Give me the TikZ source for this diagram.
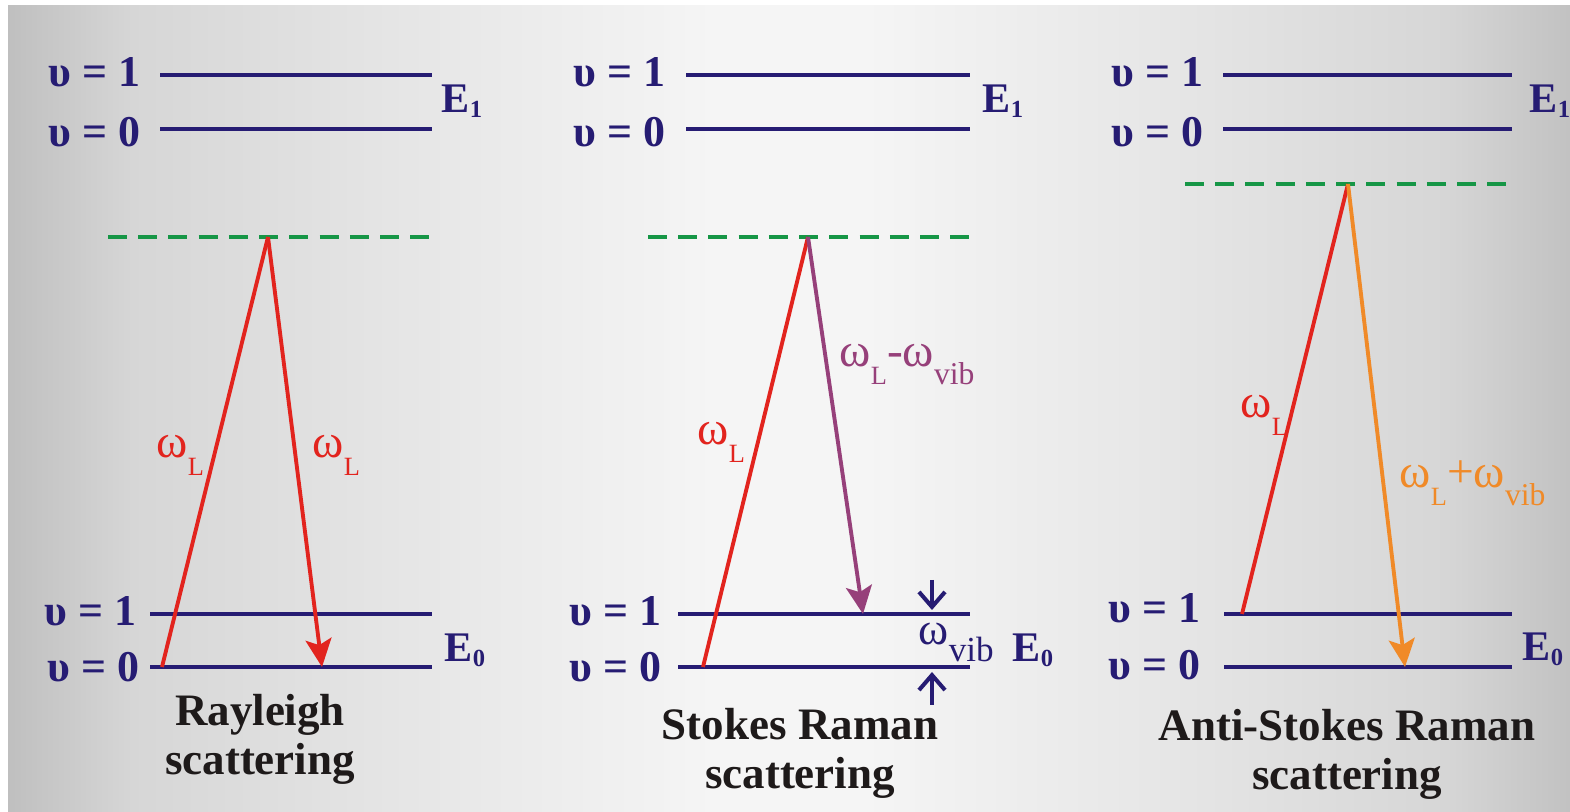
\documentclass[tikz,border=0pt]{standalone}
\usepackage{fontspec}
\setmainfont{Liberation Serif}
\usetikzlibrary{arrows.meta, positioning}

\definecolor{levelblue}{RGB}{38,28,115}
\definecolor{laserred}{RGB}{226,36,30}
\definecolor{virtgreen}{RGB}{22,150,70}
\definecolor{stokespurple}{RGB}{150,64,122}
\definecolor{antiorange}{RGB}{240,138,40}
\definecolor{titleblack}{RGB}{30,26,26}

\pgfdeclarehorizontalshading{panelbg}{100bp}{%
  rgb(0bp)=(0.75,0.75,0.75);
  rgb(25bp)=(0.75,0.75,0.75);
  rgb(29bp)=(0.84,0.84,0.84);
  rgb(37.5bp)=(0.90,0.90,0.90);
  rgb(47.5bp)=(0.96,0.96,0.96);
  rgb(52.5bp)=(0.96,0.96,0.96);
  rgb(62.5bp)=(0.90,0.90,0.90);
  rgb(71bp)=(0.84,0.84,0.84);
  rgb(75bp)=(0.76,0.76,0.76);
  rgb(100bp)=(0.76,0.76,0.76)}

\newcommand{\sbs}[2][7.5pt]{\raisebox{-0.8ex}{\fontsize{#1}{#1}\selectfont #2}}
\newcommand{\esb}[1]{\raisebox{-0.25ex}{\fontsize{7}{7}\selectfont #1}}
\newcommand{\om}{\fontsize{13.5}{13.5}\selectfont ω}

\begin{document}
\begin{tikzpicture}[
    y=-1cm,
    >={Stealth[length=2.8mm, width=2.6mm, inset=0.6mm]},
    level/.style={levelblue, line width=1.15pt},
    virtual/.style={virtgreen, line width=1.35pt, dash pattern=on 5.4pt off 3.2pt},
    photon/.style={line width=1.1pt},
    vlabel/.style={anchor=east, inner sep=0pt, text=levelblue, font=\fontsize{12.5}{12.5}\selectfont\bfseries},
    elabel/.style={anchor=base west, inner sep=0pt, text=levelblue, font=\fontsize{12}{12}\selectfont\bfseries},
    wlabel/.style={anchor=base west, inner sep=0pt},
    title/.style={anchor=base, align=center, text=titleblack, font=\fontsize{12.8}{14.2}\selectfont\bfseries}
]
    % background
    \fill[white] (0,0) rectangle (15.70,8.12);
    \shade[shading=panelbg] (0.08,0.06) rectangle (15.70,8.12);
    \useasboundingbox (0,0) rectangle (15.70,8.12);

    % ---- Rayleigh ----
    \draw[level] (1.60,0.75) -- (4.32,0.75);
    \draw[level] (1.60,1.29) -- (4.32,1.29);
    \draw[level] (1.50,6.14) -- (4.32,6.14);
    \draw[level] (1.50,6.67) -- (4.32,6.67);
    \draw[virtual] (1.08,2.37) -- (4.32,2.37);
    \node[vlabel] (r-u1) at (1.41,0.72) {υ = 1};
    \node[vlabel] (r-u0) at (1.41,1.32) {υ = 0};
    \node[vlabel] (r-l1) at (1.37,6.11) {υ = 1};
    \node[vlabel] (r-l0) at (1.40,6.67) {υ = 0};
    \node[elabel] (r-E1) at (4.41,1.13) {E\esb{1}};
    \node[elabel] (r-E0) at (4.44,6.62) {E\esb{0}};
    \coordinate (r-start) at (1.62,6.67);
    \coordinate (r-top) at (2.68,2.37);
    \coordinate (r-end) at (3.22,6.67);
    \draw[photon, laserred] (r-start) -- (r-top);
    \draw[photon, laserred, ->] (r-top) -- (r-end);
    \node[wlabel, text=laserred] (r-win) at (1.56,4.58) {\om\sbs{L}};
    \node[wlabel, text=laserred] (r-wout) at (3.12,4.58) {\om\sbs{L}};
    \node[title] (r-title) at (2.60,7.75) {Rayleigh\\scattering};

    % ---- Stokes ----
    \draw[level] (6.86,0.75) -- (9.70,0.75);
    \draw[level] (6.86,1.29) -- (9.70,1.29);
    \draw[level] (6.78,6.14) -- (9.70,6.14);
    \draw[level] (6.78,6.67) -- (9.70,6.67);
    \draw[virtual] (6.48,2.37) -- (9.70,2.37);
    \node[vlabel] (s-u1) at (6.66,0.72) {υ = 1};
    \node[vlabel] (s-u0) at (6.66,1.32) {υ = 0};
    \node[vlabel] (s-l1) at (6.62,6.11) {υ = 1};
    \node[vlabel] (s-l0) at (6.62,6.67) {υ = 0};
    \node[elabel] (s-E1) at (9.82,1.13) {E\esb{1}};
    \node[elabel] (s-E0) at (10.12,6.62) {E\esb{0}};
    \coordinate (s-start) at (7.03,6.67);
    \coordinate (s-top) at (8.08,2.37);
    \coordinate (s-end) at (8.63,6.14);
    \draw[photon, laserred] (s-start) -- (s-top);
    \draw[photon, stokespurple, ->] (s-top) -- (s-end);
    \node[wlabel, text=laserred] (s-win) at (6.97,4.45) {\om\sbs{L}};
    \node[wlabel, text=stokespurple] (s-wout) at (8.39,3.67) {\om\sbs{L}-\om\sbs[9pt]{vib}};
    \coordinate (s-vtop) at (9.32,5.80);
    \coordinate (s-vlow) at (9.32,6.10);
    \coordinate (s-vbot) at (9.32,7.05);
    \coordinate (s-vupp) at (9.32,6.72);
    \draw[level, -{Straight Barb[length=1.5mm, width=2.6mm]}] (s-vtop) -- (s-vlow);
    \draw[level, -{Straight Barb[length=1.5mm, width=2.6mm]}] (s-vbot) -- (s-vupp);
    \node[wlabel, text=levelblue] (s-wvib) at (9.18,6.45) {\fontsize{13}{13}\selectfont ω\sbs[10pt]{vib}};
    \node[title] (s-title) at (8.00,7.89) {Stokes Raman\\scattering};

    % ---- Anti-Stokes ----
    \draw[level] (12.23,0.75) -- (15.12,0.75);
    \draw[level] (12.23,1.29) -- (15.12,1.29);
    \draw[level] (12.24,6.14) -- (15.12,6.14);
    \draw[level] (12.24,6.67) -- (15.12,6.67);
    \draw[virtual] (11.85,1.84) -- (15.12,1.84);
    \node[vlabel] (a-u1) at (12.04,0.72) {υ = 1};
    \node[vlabel] (a-u0) at (12.04,1.32) {υ = 0};
    \node[vlabel] (a-l1) at (12.01,6.08) {υ = 1};
    \node[vlabel] (a-l0) at (12.01,6.65) {υ = 0};
    \node[elabel] (a-E1) at (15.29,1.13) {E\esb{1}};
    \node[elabel] (a-E0) at (15.22,6.61) {E\esb{0}};
    \coordinate (a-start) at (12.42,6.14);
    \coordinate (a-top) at (13.48,1.84);
    \coordinate (a-end) at (14.05,6.67);
    \draw[photon, laserred] (a-start) -- (a-top);
    \draw[photon, antiorange, ->] (a-top) -- (a-end);
    \node[wlabel, text=laserred] (a-win) at (12.40,4.18) {\om\sbs{L}};
    \node[wlabel, text=antiorange] (a-wout) at (13.99,4.88) {\om\sbs{L}+\om\sbs[9pt]{vib}};
    \node[title] (a-title) at (13.47,7.90) {Anti-Stokes Raman\\scattering};
\end{tikzpicture}
\end{document}
